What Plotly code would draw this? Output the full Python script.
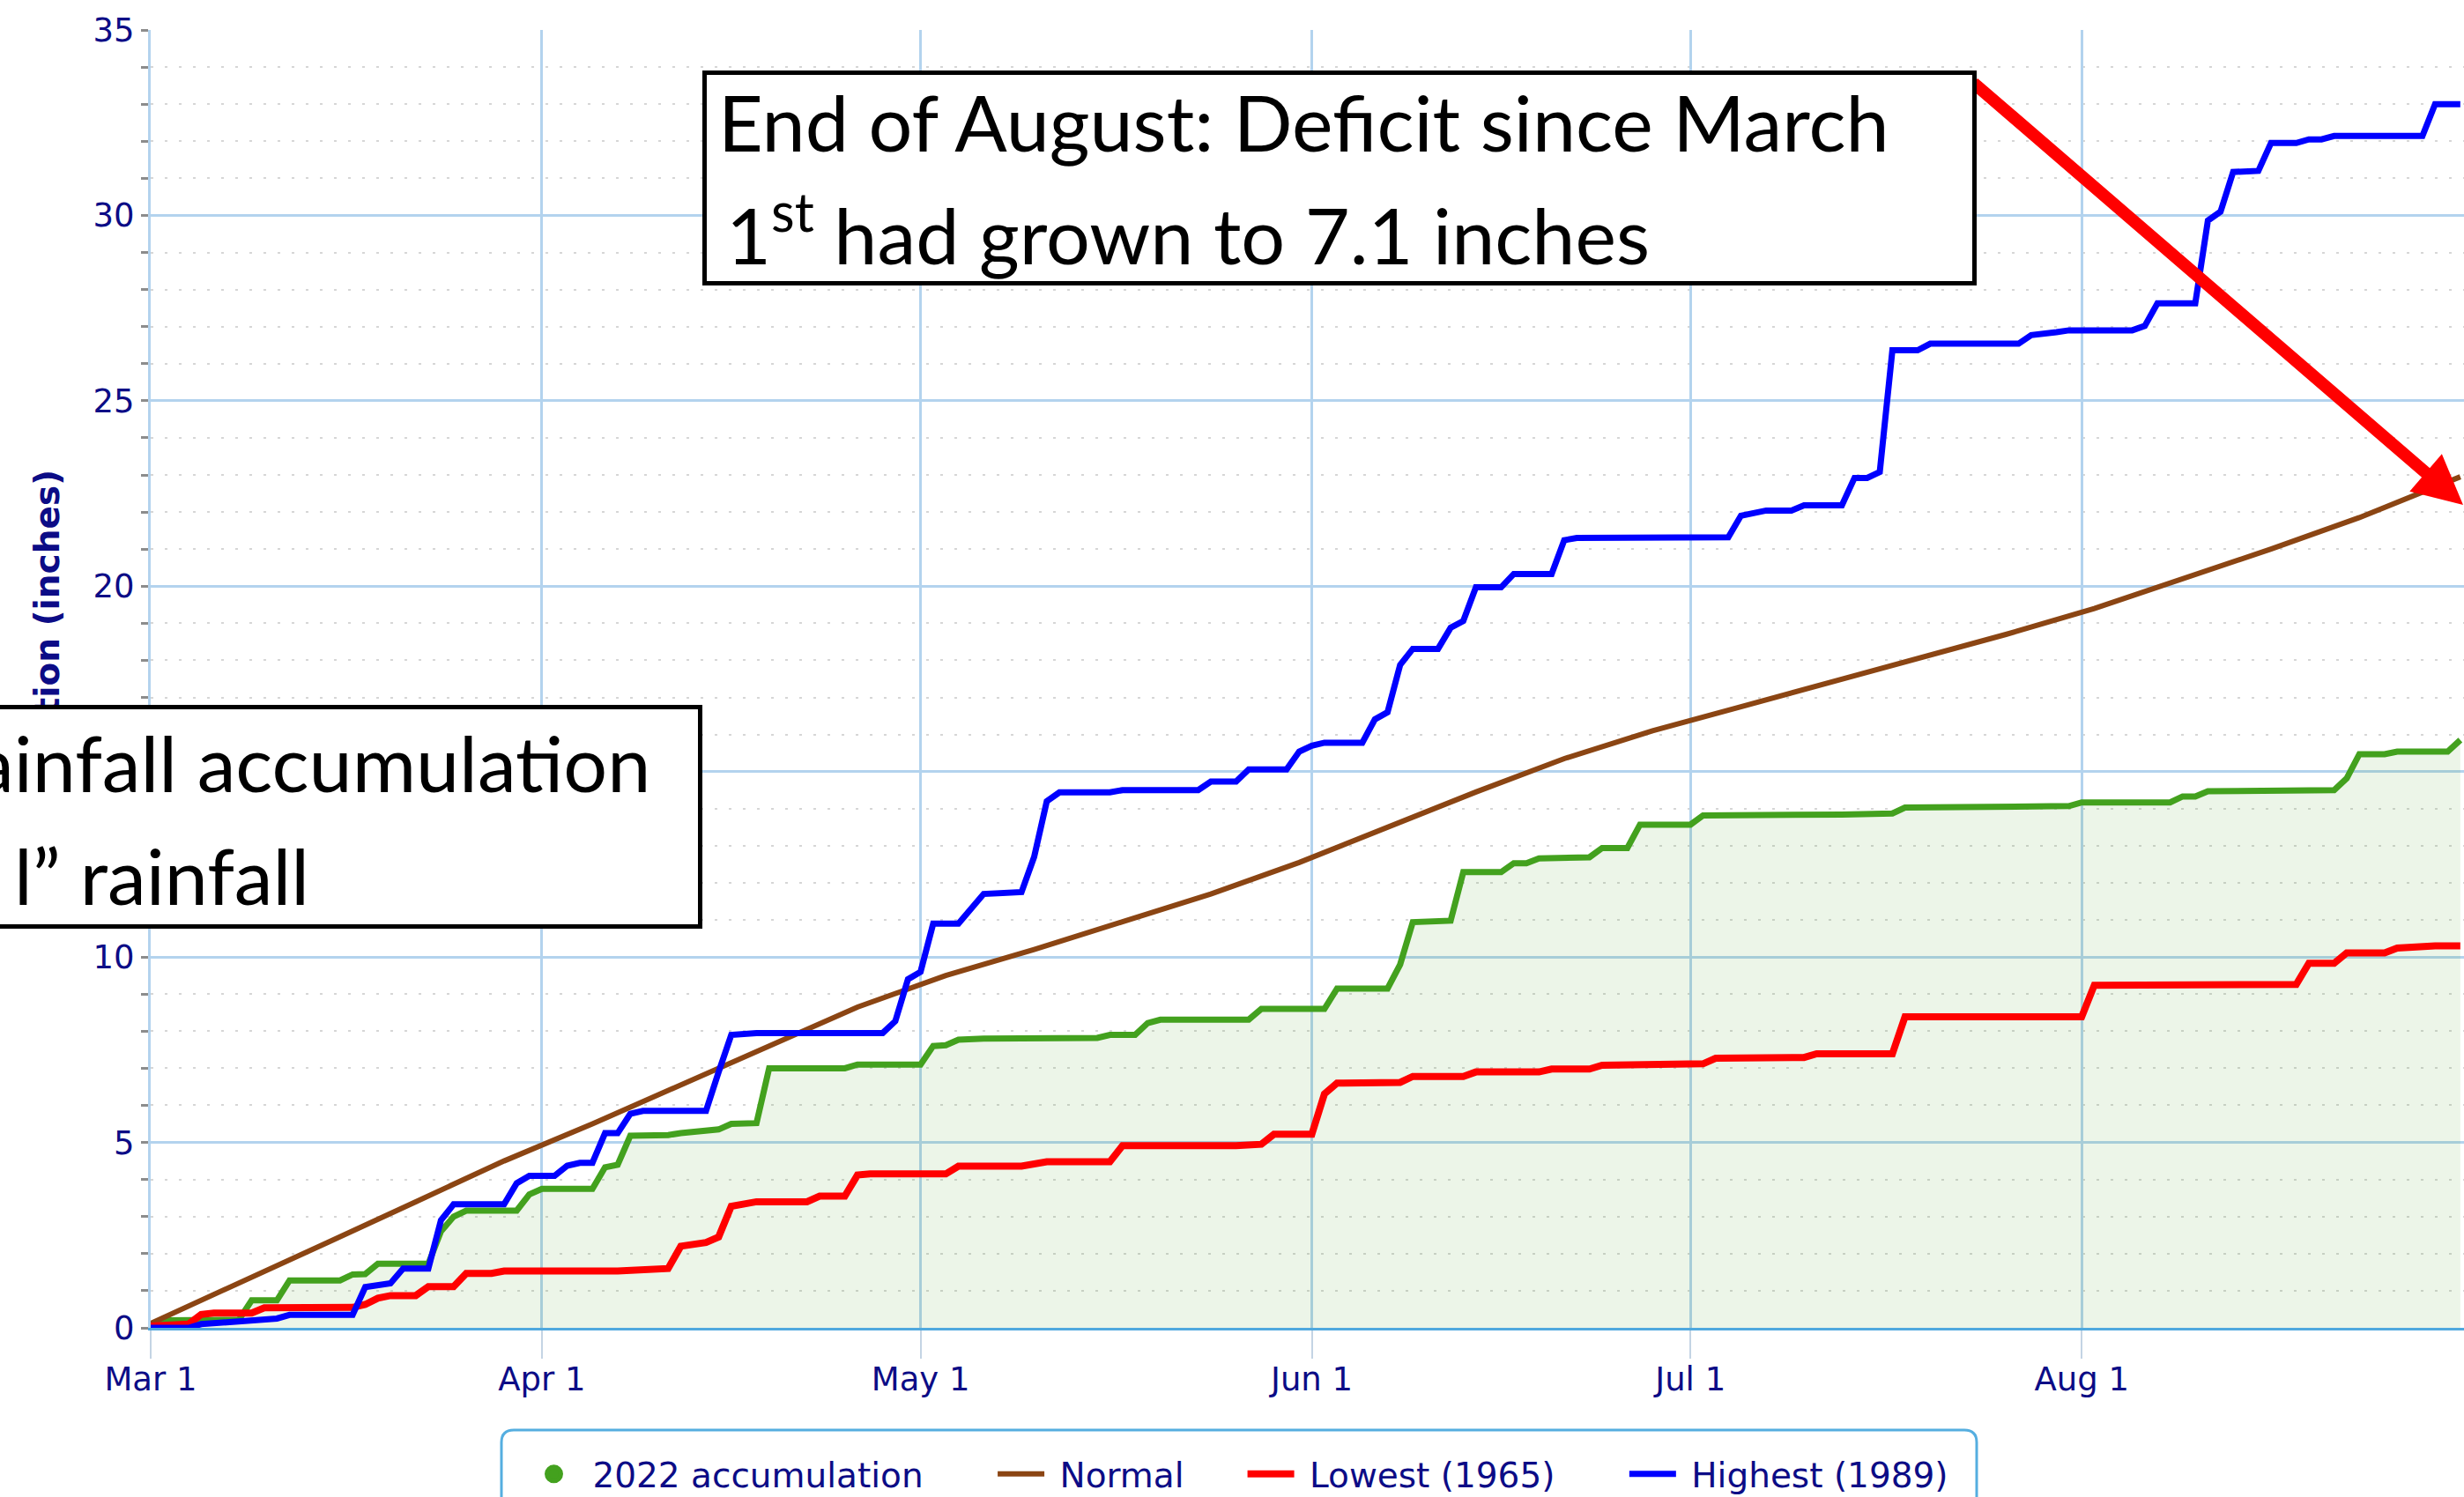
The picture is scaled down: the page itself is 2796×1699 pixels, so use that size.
import plotly.graph_objects as go

YEAR = "2022-"

# ---------------- data ----------------
acc_dates = ["03-01", "03-02", "03-08", "03-09", "03-11", "03-12", "03-16", "03-17", "03-18", "03-19",
             "03-23", "03-24", "03-25", "03-26", "03-30", "03-31", "04-01", "04-05", "04-06", "04-07",
             "04-08", "04-11", "04-12", "04-14", "04-15", "04-16", "04-18", "04-19", "04-25", "04-26",
             "05-01", "05-02", "05-03", "05-04", "05-06", "05-15", "05-16", "05-18", "05-19", "05-20",
             "05-27", "05-28", "06-02", "06-03", "06-07", "06-08", "06-09", "06-12", "06-13", "06-16",
             "06-17", "06-18", "06-19", "06-23", "06-24", "06-26", "06-27", "07-01", "07-02", "07-13",
             "07-17", "07-18", "07-31", "08-01", "08-08", "08-09", "08-10", "08-11", "08-15", "08-17",
             "08-21", "08-22", "08-23", "08-25", "08-26", "08-30", "08-31"]
acc_vals = [0.1, 0.2, 0.22, 0.74, 0.74, 1.28, 1.28, 1.44, 1.45, 1.73,
            1.73, 2.6, 3.0, 3.16, 3.16, 3.6, 3.75, 3.75, 4.33, 4.4,
            5.18, 5.2, 5.25, 5.3, 5.35, 5.5, 5.52, 7.0, 7.0, 7.1,
            7.1, 7.6, 7.62, 7.77, 7.8, 7.82, 7.9, 7.9, 8.22, 8.31,
            8.31, 8.6, 8.6, 9.15, 9.15, 9.8, 10.94, 10.98, 12.29, 12.29,
            12.53, 12.53, 12.66, 12.69, 12.94, 12.94, 13.57, 13.57, 13.82, 13.84,
            13.87, 14.03, 14.07, 14.17, 14.17, 14.33, 14.33, 14.47, 14.47, 14.5,
            14.5, 14.82, 15.47, 15.47, 15.54, 15.54, 15.85]

normal_dates = ["03-01", "03-08", "03-15", "03-22", "03-29", "04-05", "04-12", "04-19", "04-26",
                "05-03", "05-10", "05-17", "05-24", "05-31", "06-07", "06-14", "06-21", "06-28",
                "07-05", "07-12", "07-19", "07-26", "08-02", "08-09", "08-16", "08-23", "08-31"]
normal_vals = [0.12, 1.2, 2.3, 3.4, 4.5, 5.5, 6.55, 7.6, 8.65,
               9.5, 10.2, 10.95, 11.7, 12.55, 13.5, 14.45, 15.35, 16.1,
               16.75, 17.4, 18.05, 18.7, 19.4, 20.2, 21.0, 21.85, 22.95]

low_dates = ["03-01", "03-04", "03-05", "03-06", "03-09", "03-10", "03-17", "03-18", "03-19", "03-20",
             "03-22", "03-23", "03-25", "03-26", "03-28", "03-29", "04-07", "04-11", "04-12", "04-14",
             "04-15", "04-16", "04-18", "04-22", "04-23", "04-25", "04-26", "04-27", "05-03", "05-04",
             "05-09", "05-11", "05-16", "05-17", "05-26", "05-28", "05-29", "06-01", "06-02", "06-03",
             "06-08", "06-09", "06-13", "06-14", "06-19", "06-20", "06-23", "06-24", "07-02", "07-03",
             "07-10", "07-11", "07-17", "07-18", "08-01", "08-02", "08-18", "08-19", "08-21", "08-22",
             "08-25", "08-26", "08-29", "08-31"]
low_vals = [0.05, 0.1, 0.36, 0.4, 0.4, 0.54, 0.55, 0.63, 0.8, 0.87,
            0.87, 1.11, 1.11, 1.47, 1.47, 1.53, 1.53, 1.6, 2.2, 2.3,
            2.45, 3.28, 3.4, 3.4, 3.55, 3.55, 4.12, 4.15, 4.15, 4.36,
            4.36, 4.48, 4.48, 4.91, 4.91, 4.95, 5.22, 5.22, 6.31, 6.6,
            6.62, 6.78, 6.78, 6.9, 6.9, 6.98, 6.98, 7.08, 7.12, 7.27,
            7.29, 7.39, 7.39, 8.39, 8.39, 9.24, 9.26, 9.83, 9.83, 10.11,
            10.11, 10.24, 10.3, 10.3]

high_dates = ["03-01", "03-04", "03-05", "03-08", "03-10", "03-11", "03-12", "03-17", "03-18", "03-19",
              "03-20", "03-21", "03-23", "03-24", "03-25", "03-29", "03-30", "03-31", "04-02", "04-03",
              "04-04", "04-05", "04-06", "04-07", "04-08", "04-09", "04-14", "04-15", "04-16", "04-18",
              "04-28", "04-29", "04-30", "05-01", "05-02", "05-04", "05-05", "05-06", "05-09", "05-10",
              "05-11", "05-12", "05-16", "05-17", "05-23", "05-24", "05-26", "05-27", "05-30", "05-31",
              "06-01", "06-02", "06-05", "06-06", "06-07", "06-08", "06-09", "06-11", "06-12", "06-13",
              "06-14", "06-16", "06-17", "06-20", "06-21", "06-22", "07-04", "07-05", "07-07", "07-09",
              "07-10", "07-13", "07-14", "07-15", "07-16", "07-17", "07-19", "07-20", "07-27", "07-28",
              "07-30", "07-31", "08-05", "08-06", "08-07", "08-10", "08-11", "08-12", "08-13", "08-15",
              "08-16", "08-18", "08-19", "08-20", "08-21", "08-28", "08-29", "08-31"]
high_vals = [0.0, 0.0, 0.1, 0.17, 0.2, 0.25, 0.35, 0.35, 1.1, 1.15,
             1.2, 1.6, 1.6, 2.9, 3.33, 3.33, 3.9, 4.1, 4.1, 4.37,
             4.45, 4.45, 5.25, 5.25, 5.77, 5.85, 5.85, 6.9, 7.9, 7.95,
             7.95, 8.27, 9.4, 9.6, 10.9, 10.9, 11.3, 11.7, 11.75, 12.7,
             14.2, 14.44, 14.44, 14.5, 14.5, 14.73, 14.73, 15.06, 15.06, 15.54,
             15.7, 15.78, 15.78, 16.41, 16.6, 17.88, 18.31, 18.31, 18.88, 19.06,
             19.97, 19.97, 20.33, 20.33, 21.24, 21.3, 21.32, 21.9, 22.04, 22.04,
             22.18, 22.18, 22.92, 22.92, 23.08, 26.36, 26.36, 26.54, 26.54, 26.77,
             26.85, 26.9, 26.9, 27.02, 27.63, 27.63, 29.86, 30.1, 31.17, 31.2,
             31.95, 31.95, 32.05, 32.05, 32.14, 32.14, 33.0, 33.0]

x_tick_dates = ["03-01", "04-01", "05-01", "06-01", "07-01", "08-01"]
x_tick_labels = ["Mar 1", "Apr 1", "May 1", "Jun 1", "Jul 1", "Aug 1"]
y_tick_vals = [0, 5, 10, 15, 20, 25, 30, 35]

names = ["2022 accumulation", "Normal", "Lowest (1965)", "Highest (1989)"]

# ---------------- styling ----------------
W, H = 2796, 1699
ML, MR, MT, MB = 171, 0, 34, 192
PW, PH = W - ML - MR, H - MT - MB

NAVY = "#0C0C86"
GREEN = "#43A11E"
BROWN = "#8B4513"
RED = "#FF0000"
BLUE = "#0000FF"
GRID = "#B3D3EE"
TICKFONT = dict(family="DejaVu Sans", size=37, color=NAVY)
BOXFONT = dict(family="Lato", size=88, color="black")
NB = "\u00a0"


def d(s):
    return YEAR + s


def px2x(p):
    return (p - ML) / PW


def py2y(p):
    return (MT + PH - p) / PH


def legend_name(i, trailing):
    return NB + names[i] + NB * trailing


fig = go.Figure()
fig.add_trace(go.Scatter(x=[d(s) for s in acc_dates], y=acc_vals, mode="lines",
                         line=dict(color=GREEN, width=7), fill="tozeroy",
                         fillcolor="rgba(67,161,30,0.10)", showlegend=False, name=names[0]))
fig.add_trace(go.Scatter(x=[None], y=[None], mode="markers", name=legend_name(0, 6),
                         marker=dict(size=16, color=GREEN, line=dict(color=GREEN, width=5))))
fig.add_trace(go.Scatter(x=[d(s) for s in normal_dates], y=normal_vals, mode="lines",
                         line=dict(color=BROWN, width=6), name=legend_name(1, 5)))
fig.add_trace(go.Scatter(x=[d(s) for s in low_dates], y=low_vals, mode="lines",
                         line=dict(color=RED, width=8), name=legend_name(2, 6)))
fig.add_trace(go.Scatter(x=[d(s) for s in high_dates], y=high_vals, mode="lines",
                         line=dict(color=BLUE, width=7), name=legend_name(3, 0)))

annotations = [
    # y-axis title
    dict(xref="paper", yref="paper", x=px2x(53), y=0.5, xanchor="center", yanchor="middle",
         text="<b>Precipitation (inches)</b>", textangle=-90, showarrow=False,
         font=dict(family="DejaVu Sans", size=39, color=NAVY)),
    # red arrow
    dict(xref="paper", yref="paper", x=px2x(2822), y=py2y(573), ax=2238 - 2822, ay=93 - 573,
         text="", showarrow=True, arrowhead=2, arrowsize=0.8, arrowwidth=14, arrowcolor=RED),
    # top box
    dict(xref="paper", yref="paper", x=px2x(797), y=py2y(80), xanchor="left", yanchor="top",
         text=" ", showarrow=False, width=1436, height=234, bgcolor="white",
         bordercolor="black", borderwidth=5, borderpad=0),
    dict(xref="paper", yref="paper", x=px2x(813), y=py2y(138), xanchor="left", yanchor="middle",
         text="End of August: Deficit since March", showarrow=False, font=BOXFONT),
    dict(xref="paper", yref="paper", x=px2x(822), y=py2y(260), xanchor="left", yanchor="middle",
         text="1<sup>st</sup> had grown to 7.1 inches", showarrow=False, font=BOXFONT),
    # left box
    dict(xref="paper", yref="paper", x=px2x(797), y=py2y(800), xanchor="right", yanchor="top",
         text=" ", showarrow=False, width=860, height=244, bgcolor="white",
         bordercolor="black", borderwidth=5, borderpad=0),
    dict(xref="paper", yref="paper", x=px2x(740), y=py2y(865), xanchor="right", yanchor="middle",
         text="ainfall accumulation", showarrow=False, font=BOXFONT),
    dict(xref="paper", yref="paper", x=px2x(353), y=py2y(993), xanchor="right", yanchor="middle",
         text="l\u201d rainfall", showarrow=False, font=BOXFONT),
]

# rounded legend frame
lx0, lx1, ly0, ly1, r = 569, 2243, 1623, 1730, 14
rx, ry = r / PW, r / PH
X0, X1, Y0, Y1 = px2x(lx0), px2x(lx1), py2y(ly0), py2y(ly1)
path = (f"M {X0 + rx} {Y0} L {X1 - rx} {Y0} Q {X1} {Y0} {X1} {Y0 - ry} L {X1} {Y1} "
        f"L {X0} {Y1} L {X0} {Y0 - ry} Q {X0} {Y0} {X0 + rx} {Y0} Z")
shapes = [dict(type="path", xref="paper", yref="paper", path=path,
               line=dict(color="#55AEE0", width=3), fillcolor="rgba(0,0,0,0)")]

fig.update_layout(
    width=W, height=H,
    margin=dict(l=ML, r=MR, t=MT, b=MB, autoexpand=False),
    paper_bgcolor="white", plot_bgcolor="white",
    showlegend=True,
    legend=dict(orientation="h", x=px2x(597), y=py2y(1641), xanchor="left", yanchor="top",
                font=dict(family="DejaVu Sans", size=39, color=NAVY), itemwidth=53,
                bgcolor="rgba(0,0,0,0)", traceorder="normal"),
    xaxis=dict(type="date", range=[d("03-01"), d("08-31 07:00")],
               tickvals=[d(s) for s in x_tick_dates], ticktext=x_tick_labels,
               showgrid=True, gridcolor=GRID, gridwidth=3,
               showline=True, linecolor="#4FA8DE", linewidth=3,
               ticks="outside", ticklen=32, tickwidth=2, tickcolor="#C4D4E4",
               ticklabelstandoff=-8,
               tickfont=TICKFONT, zeroline=False),
    yaxis=dict(range=[0, 35], tickvals=y_tick_vals, showgrid=True, gridcolor=GRID, gridwidth=3,
               showline=True, linecolor=GRID, linewidth=3,
               ticks="outside", ticklen=8, tickwidth=3, tickcolor="#8C8C8C",
               tickfont=TICKFONT, zeroline=False,
               minor=dict(dtick=1, showgrid=True, gridcolor="#D6D6D6", griddash="3px,13px",
                          gridwidth=2, ticks="outside", ticklen=8, tickwidth=3,
                          tickcolor="#8C8C8C")),
    annotations=annotations,
    shapes=shapes,
)

fig.write_html("out.html", config={"displayModeBar": False},
               post_script="document.body.style.margin='0';")
